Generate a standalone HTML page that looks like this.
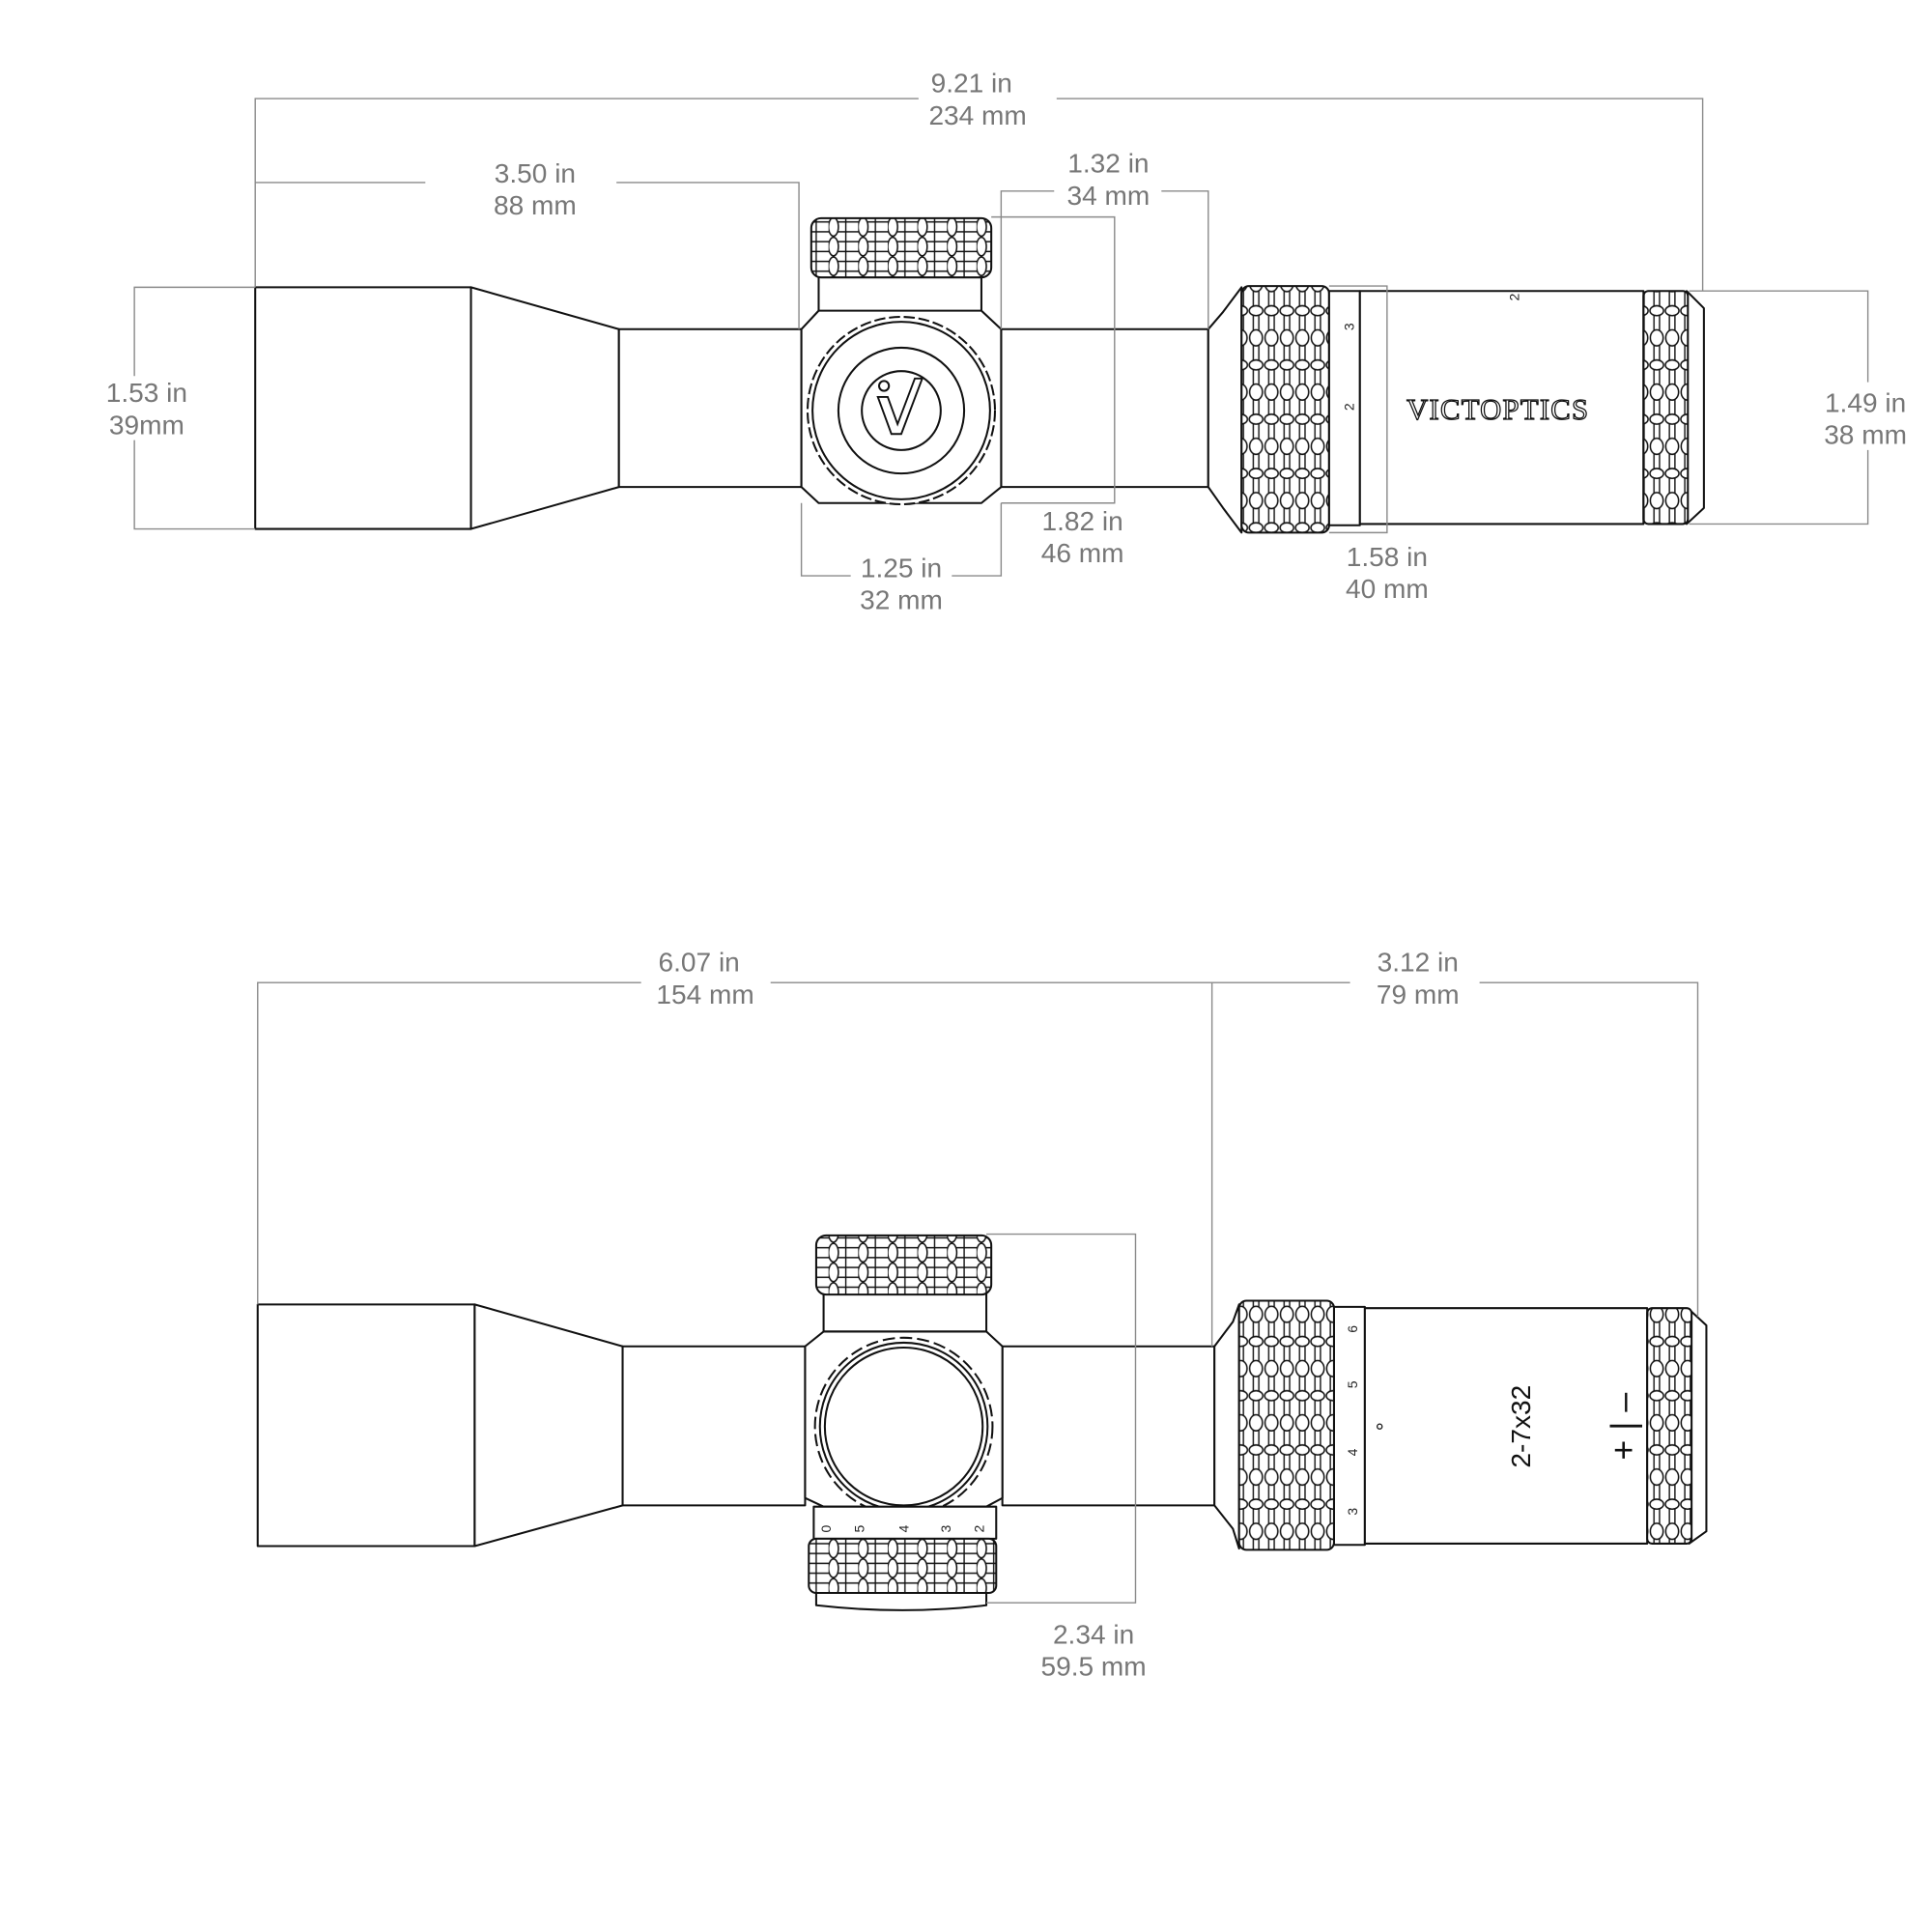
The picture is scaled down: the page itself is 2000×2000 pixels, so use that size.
<!DOCTYPE html>
<html><head><meta charset="utf-8"><style>
html,body{margin:0;padding:0;background:#fff;}
svg{display:block}
.d{stroke:#8a8a8a;stroke-width:1.1;fill:none}
.t{font-family:"Liberation Sans",sans-serif;font-size:22px;fill:#777;text-anchor:middle}
.s{stroke:#111;stroke-width:1.6;fill:#fff;stroke-linejoin:round}
.n{font-family:"Liberation Sans",sans-serif;font-size:11px;fill:#222;text-anchor:middle}
</style></head><body>
<svg width="2000" height="2000" viewBox="0 0 1567 1567" xmlns="http://www.w3.org/2000/svg">
<defs>
<pattern id="kv" width="12.5" height="44" patternUnits="userSpaceOnUse">
<rect width="12.5" height="44" fill="#fff"/>
<line x1="4" y1="0" x2="4" y2="44" stroke="#111" stroke-width="1.1"/>
<line x1="8.5" y1="0" x2="8.5" y2="44" stroke="#111" stroke-width="1.1"/>
<ellipse cx="6.25" cy="10" rx="5.2" ry="6.5" fill="#fff" stroke="#111" stroke-width="1.2"/>
<ellipse cx="6.25" cy="32" rx="5.5" ry="4" fill="#fff" stroke="#111" stroke-width="1.2"/>
</pattern>
<pattern id="kh" width="24" height="16" patternUnits="userSpaceOnUse">
<rect width="24" height="16" fill="#fff"/>
<line x1="0" y1="4" x2="24" y2="4" stroke="#111" stroke-width="1.1"/>
<line x1="0" y1="12" x2="24" y2="12" stroke="#111" stroke-width="1.1"/>
<ellipse cx="4" cy="8" rx="4" ry="7.5" fill="#fff" stroke="#111" stroke-width="1.2"/>
<line x1="14" y1="0" x2="14" y2="16" stroke="#111" stroke-width="1.1"/>
</pattern>
</defs>

<g>
<rect class="s" x="207" y="233" width="175" height="196"/>
<polygon class="s" points="382,233 502,267 502,395 382,429"/>
<rect class="s" x="502" y="267" width="148" height="128"/>
<rect class="s" x="812" y="267" width="168" height="128"/>
<rect class="s" x="664" y="222" width="132" height="32"/>
<rect x="658" y="177" width="146" height="48" rx="8" fill="url(#kh)" stroke="#111" stroke-width="1.6"/>
<polygon class="s" points="664,252 796,252 812,267 812,395 796,408 664,408 650,395 650,267"/>
<circle cx="731" cy="333" r="76" fill="#fff" stroke="#111" stroke-width="1.6" stroke-dasharray="9 3"/>
<circle cx="731" cy="333" r="72" class="s"/>
<circle cx="731" cy="333" r="51" class="s"/>
<circle cx="731" cy="333" r="32" class="s"/>
<circle cx="717" cy="313" r="4" fill="none" stroke="#111" stroke-width="1.6"/>
<path d="M712,322 L720,322 L728,344 L742,307 L748,307 L731,352 L723,352 Z" fill="none" stroke="#111" stroke-width="1.5"/>
<polygon class="s" points="980,267 992,253 1007,233 1007,432 992,412 980,395"/>
<rect x="1007" y="232" width="71" height="200" rx="6" fill="url(#kv)" stroke="#111" stroke-width="1.6"/>
<rect class="s" x="1078" y="236" width="25" height="190"/>
<text class="n" transform="translate(1094,265) rotate(-90)" dy="4">3</text>
<text class="n" transform="translate(1094,330) rotate(-90)" dy="4">2</text>
<rect class="s" x="1103" y="236" width="230" height="189"/>
<text class="n" transform="translate(1228,241) rotate(-90)" dy="4">2</text>
<text x="1215" y="340" font-family="Liberation Serif,serif" font-size="24" fill="#fff" stroke="#111" stroke-width="1" text-anchor="middle" letter-spacing="1">VICTOPTICS</text>
<polygon class="s" points="1368,236 1382,250 1382,412 1368,425"/>
<rect x="1333" y="236" width="36" height="189" rx="4" fill="url(#kv)" stroke="#111" stroke-width="1.6"/>
</g>

<path class="d" d="M207,233V80H745 M857,80H1381V236"/>
<text class="t" x="788" y="75">9.21 in</text><text class="t" x="793" y="101">234 mm</text>
<path class="d" d="M207,148H345 M500,148H648V267"/>
<text class="t" x="434" y="148">3.50 in</text><text class="t" x="434" y="174">88 mm</text>
<path class="d" d="M812,267V155H855 M942,155H980V267"/>
<text class="t" x="899" y="140">1.32 in</text><text class="t" x="899" y="166">34 mm</text>
<path class="d" d="M804,176H904V408H812"/>
<text class="t" x="878" y="430">1.82 in</text><text class="t" x="878" y="456">46 mm</text>
<path class="d" d="M650,408V467H690 M772,467H812V408"/>
<text class="t" x="731" y="468">1.25 in</text><text class="t" x="731" y="494">32 mm</text>
<path class="d" d="M1078,232H1125V432H1078"/>
<text class="t" x="1125" y="459">1.58 in</text><text class="t" x="1125" y="485">40 mm</text>
<path class="d" d="M207,233H109V305 M109,357V429H207"/>
<text class="t" x="119" y="326">1.53 in</text><text class="t" x="119" y="352">39mm</text>
<path class="d" d="M1370,236H1515V310 M1515,365V425H1370"/>
<text class="t" x="1513" y="334">1.49 in</text><text class="t" x="1513" y="360">38 mm</text>

<g>
<rect class="s" x="209" y="1058" width="176" height="196"/>
<polygon class="s" points="385,1058 505,1092 505,1221 385,1254"/>
<rect class="s" x="505" y="1092" width="148" height="129"/>
<rect class="s" x="813" y="1092" width="172" height="129"/>
<rect class="s" x="668" y="1046" width="132" height="34"/>
<rect x="662" y="1002" width="142" height="48" rx="8" fill="url(#kh)" stroke="#111" stroke-width="1.6"/>
<polygon class="s" points="668,1080 800,1080 813,1092 813,1215 800,1222 668,1222 653,1215 653,1092"/>
<circle cx="733" cy="1157" r="72" fill="#fff" stroke="#111" stroke-width="1.6" stroke-dasharray="10 4"/>
<circle cx="733" cy="1157" r="68" class="s"/>
<circle cx="733" cy="1157" r="64" class="s"/>
<rect class="s" x="660" y="1222" width="148" height="26"/>
<text class="n" transform="translate(670,1240) rotate(-90)" dy="4">0</text>
<text class="n" transform="translate(697,1240) rotate(-90)" dy="4">5</text>
<text class="n" transform="translate(733,1240) rotate(-90)" dy="4">4</text>
<text class="n" transform="translate(767,1240) rotate(-90)" dy="4">3</text>
<text class="n" transform="translate(794,1240) rotate(-90)" dy="4">2</text>
<rect x="656" y="1248" width="152" height="44" rx="6" fill="url(#kh)" stroke="#111" stroke-width="1.6"/>
<path class="s" d="M662,1292H800V1302Q733,1310 662,1302Z"/>
<polygon class="s" points="985,1092 1000,1072 1005,1058 1005,1256 1000,1240 985,1221"/>
<rect x="1005" y="1055" width="77" height="202" rx="6" fill="url(#kv)" stroke="#111" stroke-width="1.6"/>
<rect class="s" x="1082" y="1060" width="25" height="193"/>
<text class="n" transform="translate(1097,1078) rotate(-90)" dy="4">6</text>
<text class="n" transform="translate(1097,1123) rotate(-90)" dy="4">5</text>
<text class="n" transform="translate(1097,1178) rotate(-90)" dy="4">4</text>
<text class="n" transform="translate(1097,1226) rotate(-90)" dy="4">3</text>
<rect class="s" x="1107" y="1061" width="229" height="191"/>
<circle cx="1119" cy="1157" r="2" fill="none" stroke="#111"/>
<text transform="translate(1241,1157) rotate(-90)" font-family="Liberation Sans,sans-serif" font-size="22" fill="#111" text-anchor="middle">2-7x32</text>
<text transform="translate(1326,1157) rotate(-90)" font-family="Liberation Sans,sans-serif" font-size="28" fill="#111" text-anchor="middle">+ | –</text>
<polygon class="s" points="1370,1062 1384,1075 1384,1242 1370,1252"/>
<rect x="1336" y="1061" width="36" height="191" rx="4" fill="url(#kv)" stroke="#111" stroke-width="1.6"/>
</g>

<path class="d" d="M209,1058V797H520 M625,797H1095 M1200,797H1377V1068 M983,797V1092"/>
<text class="t" x="567" y="788">6.07 in</text><text class="t" x="572" y="814">154 mm</text>
<text class="t" x="1150" y="788">3.12 in</text><text class="t" x="1150" y="814">79 mm</text>
<path class="d" d="M800,1001H921V1300H800"/>
<text class="t" x="887" y="1333">2.34 in</text><text class="t" x="887" y="1359">59.5 mm</text>
</svg>
</body></html>
